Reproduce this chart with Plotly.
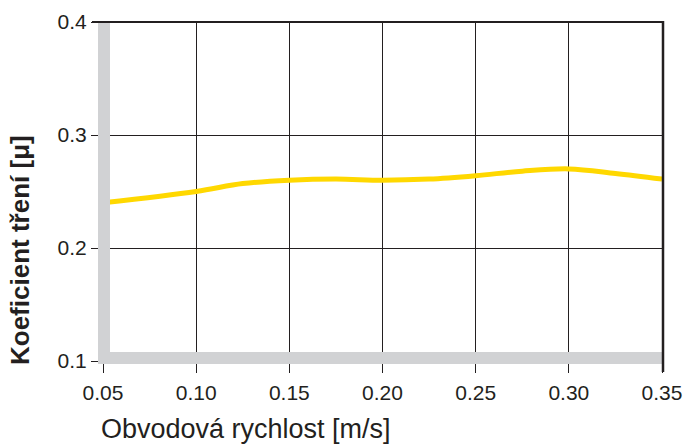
import plotly.graph_objects as go

# ---- data ----
speed = [0.05, 0.10, 0.125, 0.15, 0.175, 0.20, 0.225, 0.25, 0.275, 0.30, 0.325, 0.35]
friction = [0.240, 0.250, 0.257, 0.260, 0.261, 0.260, 0.261, 0.264, 0.268, 0.270, 0.266, 0.261]
x_ticks = [0.05, 0.10, 0.15, 0.20, 0.25, 0.30, 0.35]
x_tick_labels = ["0.05", "0.10", "0.15", "0.20", "0.25", "0.30", "0.35"]
y_ticks = [0.1, 0.2, 0.3, 0.4]
y_tick_labels = ["0.1", "0.2", "0.3", "0.4"]
x_title = "Obvodová rychlost [m/s]"
y_title = "Koeficient tření [μ]"

W, H = 685, 444
ML, MR, MT, MB = 103, 23, 22, 83
PW = W - ML - MR
PH = H - MT - MB

def px(xp):  # pixel x -> paper
    return (xp - ML) / PW

def py(yp):  # pixel y -> paper
    return (H - MB - yp) / PH

DARK = "#231f20"
GREY = "#d1d2d4"
YELLOW = "#ffd800"
FONT = "Liberation Sans, Arial, sans-serif"

fig = go.Figure()
fig.add_trace(go.Scatter(
    x=speed, y=friction, mode="lines",
    line=dict(color=YELLOW, width=5, shape="spline", smoothing=1.0),
    hoverinfo="skip", showlegend=False,
))

fig.update_layout(
    width=W, height=H, autosize=False,
    margin=dict(l=ML, r=MR, t=MT, b=MB),
    paper_bgcolor="white", plot_bgcolor="white",
    font=dict(family=FONT, color=DARK, size=21),
    xaxis=dict(
        range=[0.05, 0.35], tickvals=x_ticks, ticktext=x_tick_labels,
        showgrid=True, gridcolor=DARK, gridwidth=1.2, automargin=False,
        ticks="outside", ticklen=11, tickwidth=1.2, tickcolor=DARK,
        showline=False, zeroline=False, ticklabelstandoff=2,
        tickfont=dict(family=FONT, size=21, color=DARK),
    ),
    yaxis=dict(
        range=[0.1, 0.4], tickvals=y_ticks, ticktext=y_tick_labels,
        showgrid=True, gridcolor=DARK, gridwidth=1.2, automargin=False,
        ticks="outside", ticklen=11, tickwidth=1.2, tickcolor=DARK,
        showline=False, zeroline=False,
        tickfont=dict(family=FONT, size=21, color=DARK),
    ),
    shapes=[
        # grey axis bars
        dict(type="rect", xref="paper", yref="paper", layer="above",
             x0=px(98), x1=px(110), y0=py(364), y1=py(21),
             fillcolor=GREY, line=dict(width=0)),
        dict(type="rect", xref="paper", yref="paper", layer="above",
             x0=px(98), x1=px(662), y0=py(364), y1=py(352),
             fillcolor=GREY, line=dict(width=0)),
        # top and right borders
        dict(type="line", xref="paper", yref="paper", layer="above",
             x0=px(92), x1=px(664), y0=1, y1=1,
             line=dict(color=DARK, width=2)),
        dict(type="line", xref="paper", yref="paper", layer="above",
             x0=px(663), x1=px(663), y0=py(372), y1=py(21),
             line=dict(color=DARK, width=2.5)),
    ],
    annotations=[
        dict(text=x_title, xref="paper", yref="paper",
             x=px(99), y=py(429), xanchor="left", yanchor="middle",
             showarrow=False, font=dict(family=FONT, size=27, color=DARK)),
        dict(text="<b>" + y_title + "</b>", xref="paper", yref="paper",
             x=px(20), y=py(367), xanchor="center", yanchor="bottom",
             textangle=-90, showarrow=False,
             font=dict(family=FONT, size=26, color=DARK)),
    ],
)

fig.write_html(
    "out.html",
    config={"displayModeBar": False, "responsive": False},
    post_script="document.body.style.margin='0';document.body.style.overflow='hidden';",
)
